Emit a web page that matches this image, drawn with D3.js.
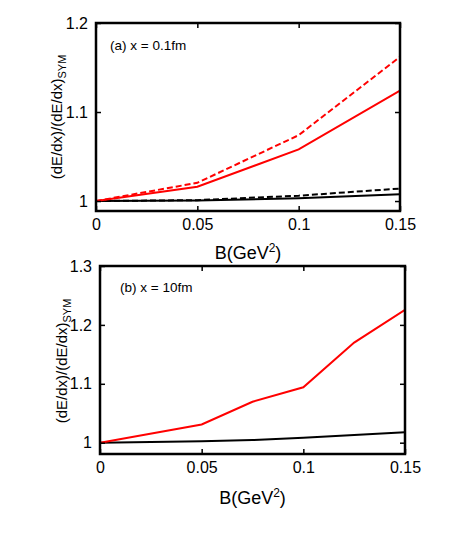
<!DOCTYPE html>
<html><head><meta charset="utf-8">
<script src="https://cdn.jsdelivr.net/npm/d3@7"></script>
<style>body{margin:0;background:#fff}svg{font-family:"Liberation Sans",Arial,sans-serif}</style>
</head><body><svg id="c" width="463" height="546"></svg>
<script>
// Panel (a) x = 0.1fm
const aB = [0, 0.05, 0.1, 0.15];
const aRedDashed = [1.0, 1.0205, 1.074, 1.162];
const aRedSolid = [1.0, 1.016, 1.058, 1.124];
const aBlackDashed = [1.0, 1.001, 1.006, 1.014];
const aBlackSolid = [1.0, 1.0005, 1.003, 1.0075];
// Panel (b) x = 10fm
const bB = [0, 0.05, 0.075, 0.1, 0.125, 0.15];
const bRed = [1.0, 1.031, 1.0695, 1.094, 1.170, 1.2255];
const bBlack = [1.0, 1.0023, 1.0045, 1.0085, 1.013, 1.0177];
const xTicks = [0, 0.05, 0.1, 0.15];
const xTickLabels = ["0", "0.05", "0.1", "0.15"];
const aYTicks = [1, 1.1, 1.2];
const aYTickLabels = ["1", "1.1", "1.2"];
const bYTicks = [1, 1.1, 1.2, 1.3];
const bYTickLabels = ["1", "1.1", "1.2", "1.3"];

const svg = d3.select("#c");

function panel(cfg) {
  const x = d3.scaleLinear().domain([0, 0.15]).range([cfg.l, cfg.r]);
  const y = d3.scaleLinear().domain(cfg.yDom).range([cfg.b, cfg.t]);
  const g = svg.append("g");
  const line = d3.line().x(d => x(d[0])).y(d => y(d[1]));
  const clipId = "clip" + cfg.id;
  svg.append("clipPath").attr("id", clipId).append("rect")
    .attr("x", cfg.l).attr("y", cfg.t).attr("width", cfg.r - cfg.l).attr("height", cfg.b - cfg.t);
  const lg = g.append("g").attr("clip-path", `url(#${clipId})`);
  cfg.series.forEach(s => {
    lg.append("path").datum(s.xs.map((v, i) => [v, s.ys[i]]))
      .attr("d", line).attr("fill", "none").attr("stroke", s.color)
      .attr("stroke-width", 2).attr("stroke-dasharray", s.dash ? "6,3" : null);
  });
  const tl = 5;
  const styleText = a => a.selectAll("text").attr("font-size", 16).attr("fill", "#000").attr("font-family", "Liberation Sans, Arial, sans-serif");
  g.append("g").attr("transform", `translate(0,${cfg.b})`)
    .call(d3.axisBottom(x).tickValues(xTicks).tickSize(-tl).tickPadding(8).tickFormat((d, i) => xTickLabels[i]))
    .call(a => { a.select(".domain").remove(); styleText(a); a.selectAll("line").attr("stroke-width", 1.5); });
  g.append("g").attr("transform", `translate(0,${cfg.t})`)
    .call(d3.axisTop(x).tickValues(xTicks).tickSize(-tl).tickFormat(""))
    .call(a => { a.select(".domain").remove(); a.selectAll("line").attr("stroke-width", 1.5); });
  g.append("g").attr("transform", `translate(${cfg.l},0)`)
    .call(d3.axisLeft(y).tickValues(cfg.yTicks).tickSize(-tl).tickPadding(8).tickFormat((d, i) => cfg.yLabels[i]))
    .call(a => { a.select(".domain").remove(); styleText(a); a.selectAll("line").attr("stroke-width", 1.5); });
  g.append("g").attr("transform", `translate(${cfg.r},0)`)
    .call(d3.axisRight(y).tickValues(cfg.yTicks).tickSize(-tl).tickFormat(""))
    .call(a => { a.select(".domain").remove(); a.selectAll("line").attr("stroke-width", 1.5); });
  g.append("rect").attr("x", cfg.l).attr("y", cfg.t).attr("width", cfg.r - cfg.l).attr("height", cfg.b - cfg.t)
    .attr("fill", "none").attr("stroke", "#000").attr("stroke-width", 2.5);
  g.append("text").attr("x", cfg.annX).attr("y", cfg.annY).attr("font-size", 13.5).text(cfg.ann);
  const xl = g.append("text").attr("x", (cfg.l + cfg.r) / 2).attr("y", cfg.xlY).attr("text-anchor", "middle").attr("font-size", 18);
  xl.append("tspan").text("B(GeV");
  xl.append("tspan").attr("font-size", 12).attr("dy", -7).text("2");
  xl.append("tspan").attr("dy", 7).text(")");
  const yl = g.append("text").attr("transform", `translate(${cfg.ylX},${cfg.ylY}) rotate(-90)`).attr("text-anchor", "middle").attr("font-size", 15);
  yl.append("tspan").text("(dE/dx)/(dE/dx)");
  yl.append("tspan").attr("font-size", 11).attr("dy", 4).text("SYM");
}

panel({
  id: "a", l: 96, r: 400, t: 23, b: 211, yDom: [0.9888, 1.2], yTicks: aYTicks, yLabels: aYTickLabels,
  series: [
    {xs: aB, ys: aBlackSolid, color: "#000", dash: false},
    {xs: aB, ys: aBlackDashed, color: "#000", dash: true},
    {xs: aB, ys: aRedSolid, color: "#ff0000", dash: false},
    {xs: aB, ys: aRedDashed, color: "#ff0000", dash: true}
  ],
  ann: "(a) x = 0.1fm", annX: 110, annY: 50, xlY: 259, ylX: 62, ylY: 117
});
panel({
  id: "b", l: 100, r: 405, t: 266, b: 454, yDom: [0.9808, 1.3], yTicks: bYTicks, yLabels: bYTickLabels,
  series: [
    {xs: bB, ys: bBlack, color: "#000", dash: false},
    {xs: bB, ys: bRed, color: "#ff0000", dash: false}
  ],
  ann: "(b) x = 10fm", annX: 120, annY: 292, xlY: 504, ylX: 67, ylY: 361
});
</script></body></html>
